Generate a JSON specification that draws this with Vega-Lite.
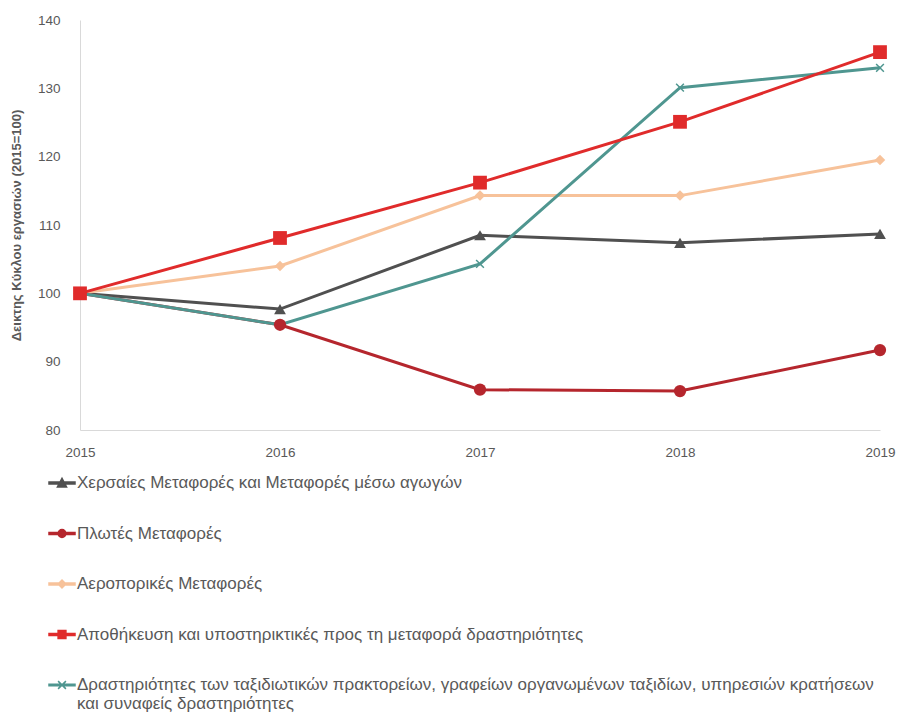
{
  "$schema": "https://vega.github.io/schema/vega-lite/v6.json",
  "width": 800,
  "height": 410,
  "autosize": {"type": "none"},
  "padding": {"left": 80, "top": 20, "right": 22, "bottom": 287},
  "background": "white",
  "config": {
    "view": {"stroke": null},
    "font": "Liberation Sans",
    "axis": {"labelColor": "#595959", "titleColor": "#595959", "labelFontSize": 13.5, "domainColor": "#d9d9d9", "grid": false, "ticks": false}
  },
  "data": {
    "values": [
      {"year": 2015, "series": "Χερσαίες Μεταφορές και Μεταφορές μέσω αγωγών", "value": 100},
      {"year": 2016, "series": "Χερσαίες Μεταφορές και Μεταφορές μέσω αγωγών", "value": 97.7},
      {"year": 2017, "series": "Χερσαίες Μεταφορές και Μεταφορές μέσω αγωγών", "value": 108.5},
      {"year": 2018, "series": "Χερσαίες Μεταφορές και Μεταφορές μέσω αγωγών", "value": 107.4},
      {"year": 2019, "series": "Χερσαίες Μεταφορές και Μεταφορές μέσω αγωγών", "value": 108.7},
      {"year": 2015, "series": "Πλωτές Μεταφορές", "value": 100},
      {"year": 2016, "series": "Πλωτές Μεταφορές", "value": 95.4},
      {"year": 2017, "series": "Πλωτές Μεταφορές", "value": 85.9},
      {"year": 2018, "series": "Πλωτές Μεταφορές", "value": 85.7},
      {"year": 2019, "series": "Πλωτές Μεταφορές", "value": 91.7},
      {"year": 2015, "series": "Αεροπορικές Μεταφορές", "value": 100},
      {"year": 2016, "series": "Αεροπορικές Μεταφορές", "value": 104},
      {"year": 2017, "series": "Αεροπορικές Μεταφορές", "value": 114.3},
      {"year": 2018, "series": "Αεροπορικές Μεταφορές", "value": 114.3},
      {"year": 2019, "series": "Αεροπορικές Μεταφορές", "value": 119.5},
      {"year": 2015, "series": "Δραστηριότητες των ταξιδιωτικών πρακτορείων, γραφείων οργανωμένων ταξιδίων, υπηρεσιών κρατήσεων και συναφείς δραστηριότητες", "value": 100},
      {"year": 2016, "series": "Δραστηριότητες των ταξιδιωτικών πρακτορείων, γραφείων οργανωμένων ταξιδίων, υπηρεσιών κρατήσεων και συναφείς δραστηριότητες", "value": 95.4},
      {"year": 2017, "series": "Δραστηριότητες των ταξιδιωτικών πρακτορείων, γραφείων οργανωμένων ταξιδίων, υπηρεσιών κρατήσεων και συναφείς δραστηριότητες", "value": 104.3},
      {"year": 2018, "series": "Δραστηριότητες των ταξιδιωτικών πρακτορείων, γραφείων οργανωμένων ταξιδίων, υπηρεσιών κρατήσεων και συναφείς δραστηριότητες", "value": 130.1},
      {"year": 2019, "series": "Δραστηριότητες των ταξιδιωτικών πρακτορείων, γραφείων οργανωμένων ταξιδίων, υπηρεσιών κρατήσεων και συναφείς δραστηριότητες", "value": 133},
      {"year": 2015, "series": "Αποθήκευση και υποστηρικτικές προς τη μεταφορά δραστηριότητες", "value": 100},
      {"year": 2016, "series": "Αποθήκευση και υποστηρικτικές προς τη μεταφορά δραστηριότητες", "value": 108.1},
      {"year": 2017, "series": "Αποθήκευση και υποστηρικτικές προς τη μεταφορά δραστηριότητες", "value": 116.2},
      {"year": 2018, "series": "Αποθήκευση και υποστηρικτικές προς τη μεταφορά δραστηριότητες", "value": 125.1},
      {"year": 2019, "series": "Αποθήκευση και υποστηρικτικές προς τη μεταφορά δραστηριότητες", "value": 135.3}
    ]
  },
  "encoding": {
    "x": {"field": "year", "type": "quantitative", "scale": {"domain": [2015, 2019], "nice": false, "zero": false},
      "axis": {"values": [2015, 2016, 2017, 2018, 2019], "format": "d", "title": null, "labelPadding": 15, "labelFlush": false}},
    "y": {"field": "value", "type": "quantitative", "scale": {"domain": [80, 140], "nice": false, "zero": false},
      "axis": {"values": [80, 90, 100, 110, 120, 130, 140], "title": "Δεικτης Κύκλου εργασιών (2015=100)", "titleFontSize": 13, "titleFontWeight": "bold", "titlePadding": 14, "labelPadding": 20}},
    "color": {"field": "series", "type": "nominal",
      "scale": {
        "domain": ["Χερσαίες Μεταφορές και Μεταφορές μέσω αγωγών", "Πλωτές Μεταφορές", "Αεροπορικές Μεταφορές", "Αποθήκευση και υποστηρικτικές προς τη μεταφορά δραστηριότητες", "Δραστηριότητες των ταξιδιωτικών πρακτορείων, γραφείων οργανωμένων ταξιδίων, υπηρεσιών κρατήσεων και συναφείς δραστηριότητες"],
        "range": ["#505050", "#b5262d", "#f7c29a", "#e02b2b", "#4f9690"]
      },
      "legend": {
        "orient": "none",
        "legendX": -32,
        "legendY": 449,
        "title": null,
        "direction": "vertical",
        "labelFontSize": 17,
        "labelColor": "#595959",
        "labelLimit": 0,
        "labelOffset": 1,
        "symbolSize": 676,
        "symbolType": "square",
        "symbolStrokeWidth": 1.5,
        "rowPadding": 28.5,
        "labelExpr": "indexof(datum.label, 'Δραστηριότητες των') == 0 ? ['Δραστηριότητες των ταξιδιωτικών πρακτορείων, γραφείων οργανωμένων ταξιδίων, υπηρεσιών κρατήσεων', 'και συναφείς δραστηριότητες'] : datum.label",
        "encode": {
          "symbols": {
            "update": {
              "fill": {"signal": "scale('color', datum.value)"},
              "stroke": {"signal": "scale('color', datum.value)"},
              "shape": {"signal": "indexof(datum.value, 'Χερσαίες') == 0 ? 'M-1,-0.07L1,-0.07L1,0.07L-1,0.07Z M-0.35,0.3L0,-0.35L0.35,0.3Z' : indexof(datum.value, 'Πλωτές') == 0 ? 'M-1,-0.07L1,-0.07L1,0.07L-1,0.07Z M0.3,0A0.3,0.3,0,1,1,-0.3,0A0.3,0.3,0,1,1,0.3,0Z' : indexof(datum.value, 'Αεροπορικές') == 0 ? 'M-1,-0.07L1,-0.07L1,0.07L-1,0.07Z M0,-0.3L0.3,0L0,0.3L-0.3,0Z' : indexof(datum.value, 'Αποθήκευση') == 0 ? 'M-1,-0.07L1,-0.07L1,0.07L-1,0.07Z M-0.3,-0.3L0.3,-0.3L0.3,0.3L-0.3,0.3Z' : 'M-1,-0.05L1,-0.05L1,0.05L-1,0.05Z M-0.3,-0.3L0.3,0.3M0.3,-0.3L-0.3,0.3'"}
            }
          }
        }
      }
    }
  },
  "layer": [
    {
      "mark": {"type": "line", "strokeWidth": 3}
    },
    {
      "transform": [{"filter": "datum.series == 'Χερσαίες Μεταφορές και Μεταφορές μέσω αγωγών'"}],
      "mark": {"type": "point", "shape": "triangle-up", "filled": true, "opacity": 1, "size": 140}
    },
    {
      "transform": [{"filter": "datum.series == 'Αεροπορικές Μεταφορές'"}],
      "mark": {"type": "point", "shape": "diamond", "filled": true, "opacity": 1, "size": 110}
    },
    {
      "transform": [{"filter": "datum.series == 'Δραστηριότητες των ταξιδιωτικών πρακτορείων, γραφείων οργανωμένων ταξιδίων, υπηρεσιών κρατήσεων και συναφείς δραστηριότητες'"}],
      "mark": {"type": "point", "shape": "M-1,-1L1,1M1,-1L-1,1", "filled": false, "opacity": 1, "size": 60, "strokeWidth": 1.5}
    },
    {
      "transform": [{"filter": "datum.series == 'Πλωτές Μεταφορές'"}],
      "mark": {"type": "point", "shape": "circle", "filled": true, "opacity": 1, "size": 150}
    },
    {
      "transform": [{"filter": "datum.series == 'Αποθήκευση και υποστηρικτικές προς τη μεταφορά δραστηριότητες'"}],
      "mark": {"type": "point", "shape": "square", "filled": true, "opacity": 1, "size": 190}
    }
  ]
}
